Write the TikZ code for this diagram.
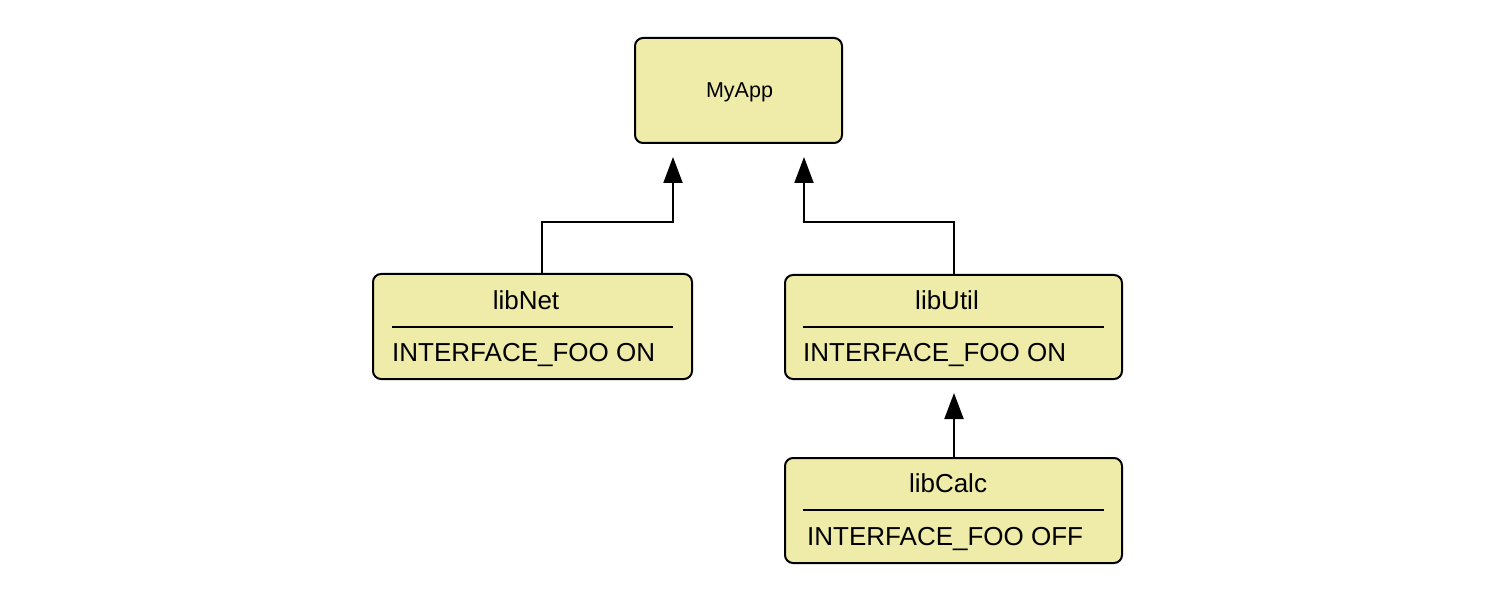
\documentclass[tikz,border=0pt]{standalone}
\usepackage{fontspec}
\setmainfont{Liberation Sans}
\usetikzlibrary{arrows.meta}
\definecolor{boxfill}{RGB}{238,236,168}
\tikzset{
  libbox/.style={draw=black, fill=boxfill, line width=2pt, rounded corners=8pt, inner sep=0pt},
  title/.style={anchor=base, inner sep=0pt, font=\fontsize{26}{30}\selectfont},
  attr/.style={anchor=base west, inner sep=0pt, font=\fontsize{26}{30}\selectfont},
  apptext/.style={anchor=base, inner sep=0pt, font=\fontsize{21.5}{26}\selectfont},
  sep/.style={line width=2pt},
  conn/.style={line width=2pt, -{Triangle[width=19pt,length=26pt]}}
}
\begin{document}
\begin{tikzpicture}[x=1pt,y=-1pt]
\useasboundingbox[fill=white] (0,0) rectangle (1485,609);
% boxes
\node[libbox, minimum width=207pt, minimum height=105pt] (myapp) at (738.5,90.5) {};
\node[libbox, minimum width=319pt, minimum height=105pt] (libnet) at (532.5,326.5) {};
\node[libbox, minimum width=337pt, minimum height=104pt] (libutil) at (953.5,327) {};
\node[libbox, minimum width=337pt, minimum height=105pt] (libcalc) at (953.5,510.5) {};
% texts
\node[apptext] (myappT) at (739.5,98) {MyApp};
\node[title] (libnetT) at (526,310) {libNet};
\node[attr] (libnetA) at (392,362) {INTERFACE\_FOO ON};
\node[title] (libutilT) at (947,310) {libUtil};
\node[attr] (libutilA) at (803,361) {INTERFACE\_FOO ON};
\node[title] (libcalcT) at (948,492) {libCalc};
\node[attr] (libcalcA) at (807,545) {INTERFACE\_FOO OFF};
% separators
\draw[sep] (392,327) -- (673,327);
\draw[sep] (803,327) -- (1104,327);
\draw[sep] (803,510) -- (1104,510);
% connector end points
\coordinate (tipL) at (673,157);
\coordinate (tipR) at (804,157);
\coordinate (tipU) at (954,393);
\coordinate (bendL) at (542,222);
\coordinate (bendR) at (954,222);
% connectors
\draw[conn] (libnet.north -| bendL) -- (bendL) -| (tipL);
\draw[conn] (libutil.north -| bendR) -- (bendR) -| (tipR);
\draw[conn] (libcalc.north -| tipU) -- (tipU);
\end{tikzpicture}
\end{document}
